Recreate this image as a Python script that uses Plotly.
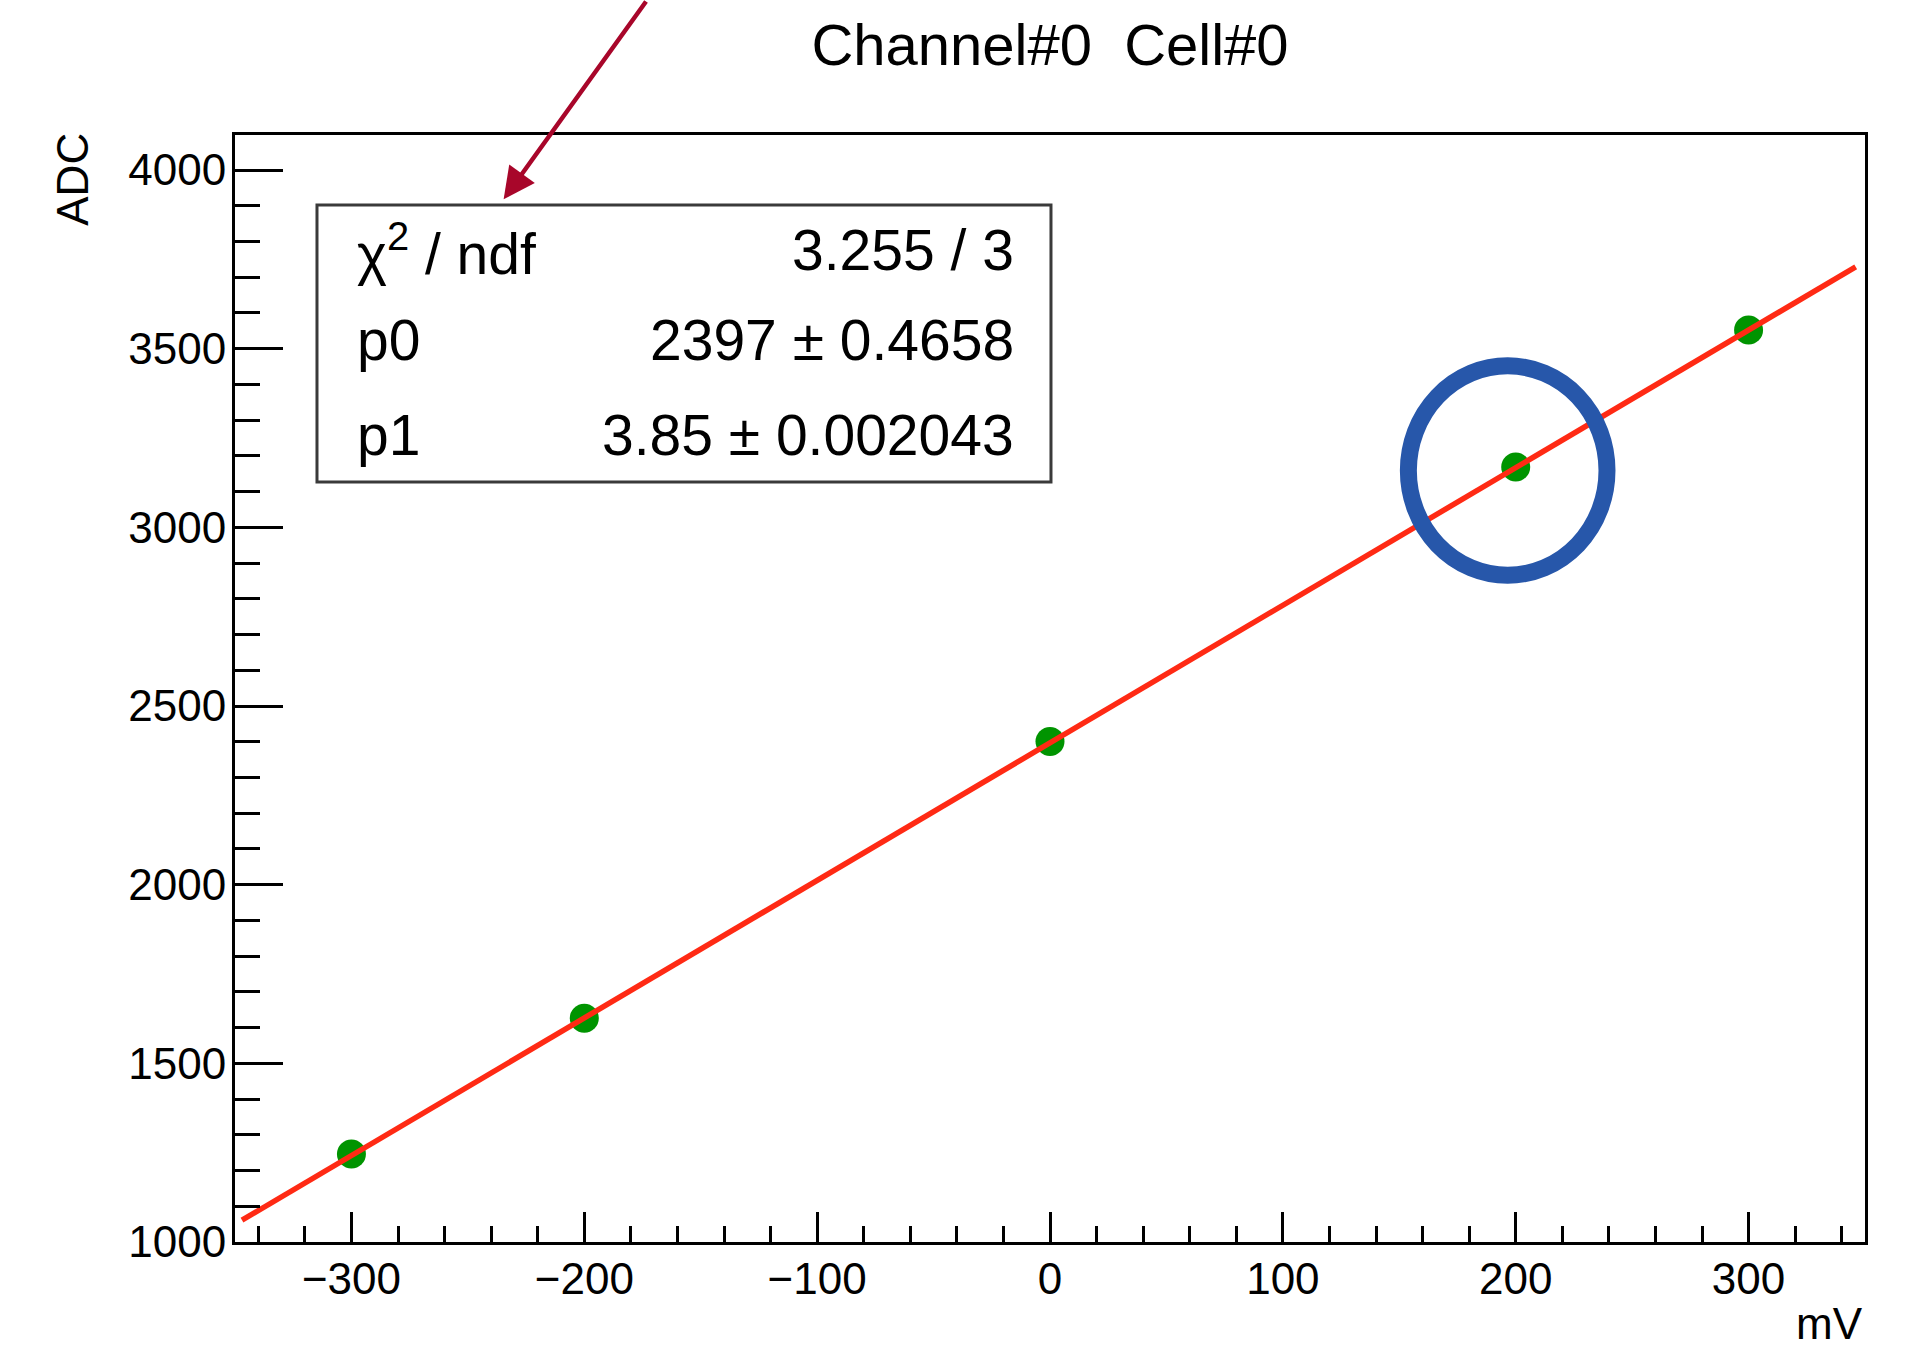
import numpy as np
import plotly.graph_objects as go

# Calibration points: injected pulse amplitude vs. measured ADC
mv = [-300, -200, 0, 200, 300]
adc = [1246, 1626, 2401, 3169, 3552]

# Linear fit result (pol1): ADC = p0 + p1 * mV
p0, p0_err = 2397, 0.4658
p1, p1_err = 3.85, 0.002043
chi2, ndf = 3.255, 3

x_ticks = [-300, -200, -100, 0, 100, 200, 300]
y_ticks = [1000, 1500, 2000, 2500, 3000, 3500, 4000]

title_text = "Channel#0  Cell#0"
x_title = "mV"
y_title = "ADC"

FONT = "Liberation Sans, Arial, Helvetica, sans-serif"

fit_x = np.array([-347.0, 346.0])
fit_y = p0 + p1 * fit_x

fig = go.Figure()

fig.add_trace(go.Scatter(
    x=mv, y=adc, mode="markers",
    marker=dict(color="#009400", size=29, line=dict(width=0)),
    showlegend=False,
))

# Fit function drawn over the points
fig.add_trace(go.Scatter(
    x=fit_x, y=fit_y, mode="lines",
    line=dict(color="#ff2a14", width=5.5),
    showlegend=False,
))

axis_common = dict(
    showgrid=False, zeroline=False,
    showline=True, linecolor="black", linewidth=3, mirror=True,
    ticks="inside", tickcolor="black", tickwidth=2.5,
    tickfont=dict(family=FONT, size=44, color="black"),
)

fig.update_xaxes(
    range=[-350, 350], tickvals=x_ticks, ticklen=30,
    minor=dict(ticks="inside", dtick=20, ticklen=16, tickwidth=2.5, tickcolor="black"),
    ticklabelstandoff=-4,
    **axis_common,
)
fig.update_yaxes(
    range=[1000, 4098], tickvals=y_ticks, ticklen=48,
    minor=dict(ticks="inside", dtick=100, ticklen=25, tickwidth=2.5, tickcolor="black"),
    ticklabelstandoff=-3,
    **axis_common,
)

# Fit statistics box
box = dict(x0=0.0503, x1=0.5006, y0=0.6866, y1=0.9368)
fig.add_shape(type="rect", xref="paper", yref="paper", **box,
              line=dict(color="#3a3a3a", width=3), fillcolor="white", layer="above")

stat_rows = [
    ("χ<sup>2</sup> / ndf", f"{chi2} / {ndf}", 0.8962),
    ("p0", f"{p0} ± {p0_err}", 0.8150),
    ("p1", f"{p1} ± {p1_err}", 0.7292),
]
annotations = []
for label, value, ypos in stat_rows:
    annotations.append(dict(xref="paper", yref="paper", x=0.0736, y=ypos,
                            text=label, showarrow=False, xanchor="left", yanchor="middle",
                            font=dict(family=FONT, size=57, color="black")))
    annotations.append(dict(xref="paper", yref="paper", x=0.479, y=ypos,
                            text=value, showarrow=False, xanchor="right", yanchor="middle",
                            font=dict(family=FONT, size=57, color="black")))

# Axis titles placed ROOT-style at the axis ends
annotations.append(dict(xref="paper", yref="paper", x=-0.1002, y=1.004,
                        text=y_title, textangle=-90, showarrow=False,
                        xanchor="center", yanchor="top",
                        font=dict(family=FONT, size=44, color="black")))
annotations.append(dict(xref="paper", yref="paper", x=1.0, y=-0.0738,
                        text=x_title, showarrow=False,
                        xanchor="right", yanchor="middle",
                        font=dict(family=FONT, size=44, color="black")))

# Pointer arrow to the stats box
annotations.append(dict(xref="paper", yref="paper", x=0.1648, y=0.9419,
                        ax=143.5, ay=-219.3, axref="pixel", ayref="pixel",
                        text="", showarrow=True, arrowhead=2, arrowsize=1.4,
                        arrowwidth=4.5, arrowcolor="#a8062a", standoff=0))

# Highlight ring around the 200 mV point
ring = dict(x0=153.9, x1=239.2, y0=2866.0, y1=3452.0)
fig.add_shape(type="circle", xref="x", yref="y", **ring,
              line=dict(color="#2757aa", width=17), layer="above")

fig.update_layout(
    width=1906, height=1349,
    margin=dict(l=235, r=41, t=135, b=107, pad=0),
    paper_bgcolor="white", plot_bgcolor="white",
    title=dict(text=title_text, x=0.5, xref="paper", xanchor="center",
               y=1 - 45 / 1349, yref="container", yanchor="middle",
               font=dict(family=FONT, size=58, color="black")),
    annotations=annotations,
    showlegend=False,
)

fig.write_html("out.html")
